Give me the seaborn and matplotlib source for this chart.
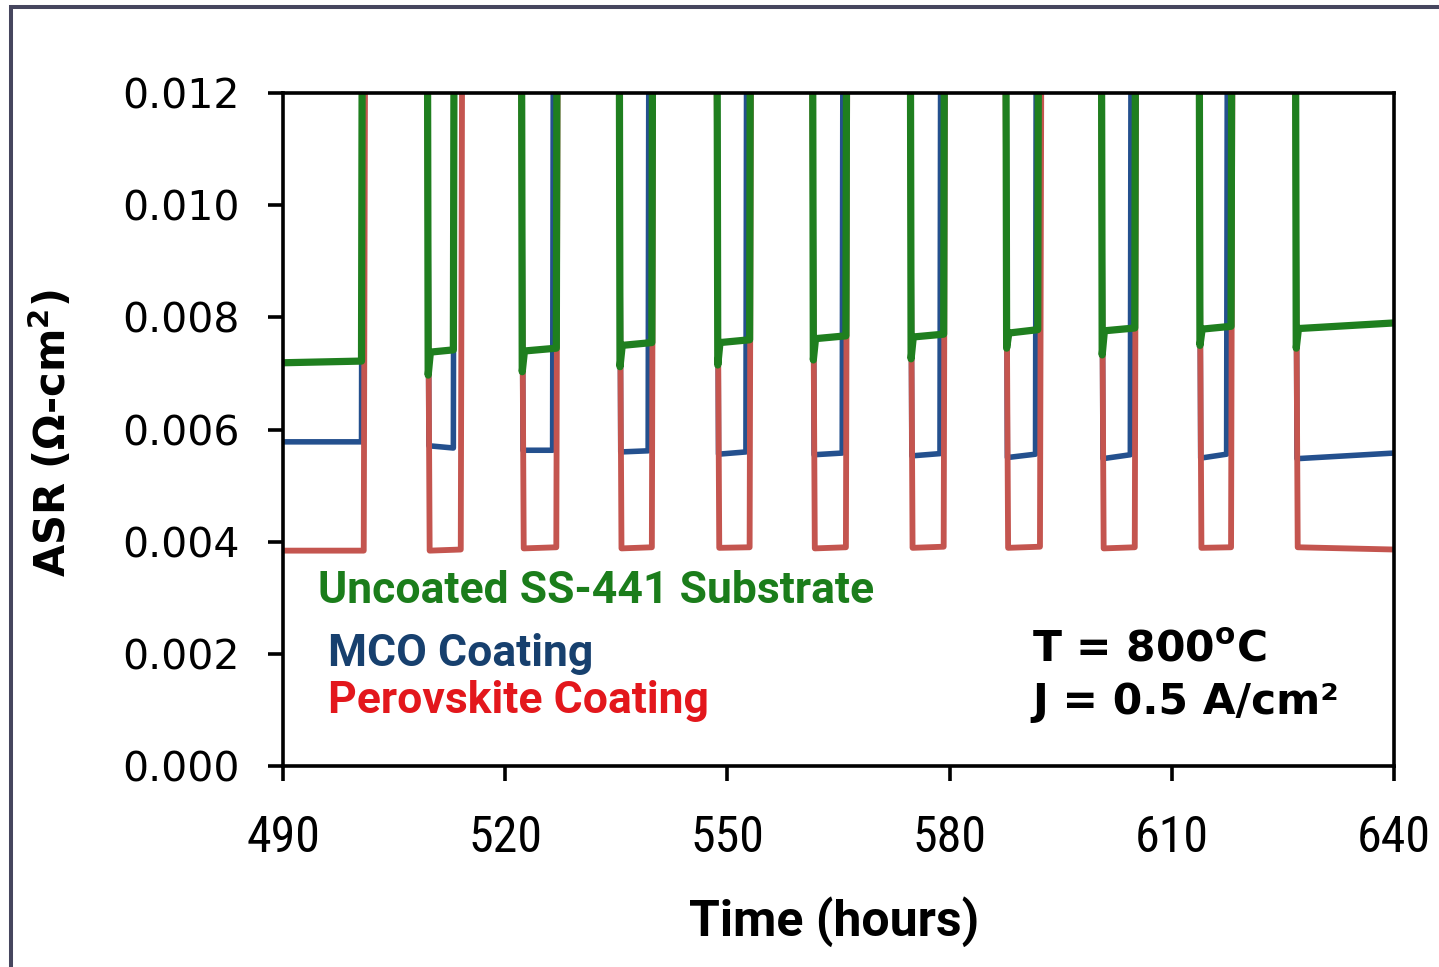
import matplotlib
matplotlib.use("Agg")
import matplotlib.pyplot as plt
import seaborn as sns
import pandas as pd
from matplotlib import font_manager
from matplotlib.patches import Rectangle
from matplotlib.ticker import FixedLocator, FormatStrFormatter

# ---------------- data ----------------
x_ticks = [490, 520, 550, 580, 610, 640]
y_ticks = [0.000, 0.002, 0.004, 0.006, 0.008, 0.010, 0.012]

# time when each test window starts (lines come back down into range)
on_start = [509.6, 522.3, 535.5, 548.7, 561.6, 574.8, 587.7, 600.6, 613.8, 626.8]
# time each series leaves the range again (last window runs to 640)
green_off = [513.0, 526.9, 539.8, 553.0, 566.0, 579.2, 591.9, 605.0, 618.0]
blue_off = [513.0, 526.4, 539.3, 552.5, 565.5, 578.7, 591.6, 604.4, 617.4]
red_off = [514.0, 526.9, 539.8, 553.0, 566.0, 579.2, 592.2, 605.0, 618.0]
first_end = {"green": 500.6, "blue": 500.6, "red": 500.9}

# Uncoated SS-441
green_first = [0.00719, 0.00722]
green_dip = [0.00697, 0.00703, 0.00712, 0.00715, 0.00724, 0.00726, 0.00745, 0.00733, 0.00750, 0.00745]
green_lo = [0.00738, 0.00740, 0.00750, 0.00755, 0.00762, 0.00765, 0.00772, 0.00776, 0.00779, 0.00780]
green_hi = [0.00742, 0.00745, 0.00755, 0.00760, 0.00767, 0.00770, 0.00778, 0.00781, 0.00784, 0.00790]
# MCO coating
blue_first = [0.00578, 0.00578]
blue_lo = [0.00571, 0.00563, 0.00560, 0.00556, 0.00555, 0.00553, 0.00550, 0.00548, 0.00549, 0.00548]
blue_hi = [0.00567, 0.00563, 0.00562, 0.00560, 0.00558, 0.00557, 0.00556, 0.00555, 0.00556, 0.00558]
# Perovskite coating
red_first = [0.00384, 0.00384]
red_lo = [0.00384, 0.00388, 0.00388, 0.00389, 0.00388, 0.00389, 0.00389, 0.00388, 0.00389, 0.00390]
red_hi = [0.00386, 0.00390, 0.00390, 0.00390, 0.00390, 0.00391, 0.00391, 0.00390, 0.00390, 0.00386]

OFF = 0.0135  # off-scale value between windows
T_START, T_END = 490, 640


def build(first_t, first_lv, starts, offs, lo, hi, dip=None, slant=0.15):
    xs = [T_START, first_t, first_t + slant]
    ys = [first_lv[0], first_lv[1], OFF]
    for i, s in enumerate(starts):
        xs.append(s - slant)
        ys.append(OFF)
        if dip is not None:
            xs += [s, s + 0.3]
            ys += [dip[i], lo[i]]
        else:
            xs.append(s + slant)
            ys.append(lo[i])
        end = offs[i] if i < len(offs) else T_END
        xs.append(end)
        ys.append(hi[i])
        if i < len(offs):
            xs.append(end + slant)
            ys.append(OFF)
    return pd.DataFrame({"t": xs, "asr": ys})


green_df = build(first_end["green"], green_first, on_start, green_off, green_lo, green_hi, dip=green_dip, slant=0.1)
blue_df = build(first_end["blue"], blue_first, on_start, blue_off, blue_lo, blue_hi, slant=0.1)
red_df = build(first_end["red"], red_first, on_start, red_off, red_lo, red_hi, slant=0.2)

# ---------------- fonts ----------------
names = {f.name for f in font_manager.fontManager.ttflist}
if "Liberation Sans Narrow" in names:
    xt_font, xt_size = "Liberation Sans Narrow", 38
elif "Roboto Condensed" in names:
    xt_font, xt_size = "Roboto Condensed", 36
else:
    xt_font, xt_size = "DejaVu Sans", 26.5
if "Roboto" in names:
    nb_font, nb_scale = "Roboto", 1.0
else:
    nb_font, nb_scale = "DejaVu Sans", 0.8

sns.set_theme(style="white")
plt.rcParams["font.family"] = ["DejaVu Sans"]
plt.rcParams["mathtext.fontset"] = "dejavusans"

W, H = 1439, 967
fig = plt.figure(figsize=(W / 100, H / 100), dpi=100)
fig.patch.set_facecolor("white")
ax = fig.add_axes([283 / W, 1 - 766 / H, (1394 - 283) / W, (766 - 93) / H])
ax.set_facecolor("white")

GREEN, BLUE, RED = "#1f7f1f", "#24508e", "#c4554f"
sns.lineplot(data=blue_df, x="t", y="asr", sort=False, estimator=None, color=BLUE, linewidth=4.0, ax=ax, zorder=2)
sns.lineplot(data=red_df, x="t", y="asr", sort=False, estimator=None, color=RED, linewidth=4.2, ax=ax, zorder=3)
sns.lineplot(data=green_df, x="t", y="asr", sort=False, estimator=None, color=GREEN, linewidth=5.2, ax=ax, zorder=4)

ax.set_xlim(T_START, T_END)
ax.set_ylim(0, 0.012)
ax.xaxis.set_major_locator(FixedLocator(x_ticks))
ax.yaxis.set_major_locator(FixedLocator(y_ticks))
ax.yaxis.set_major_formatter(FormatStrFormatter("%.3f"))
ax.xaxis.set_major_formatter(FormatStrFormatter("%d"))

for sp in ax.spines.values():
    sp.set_visible(True)
    sp.set_color("black")
    sp.set_linewidth(2.6)
    sp.set_zorder(5)

ax.tick_params(axis="y", direction="out", length=11, width=2.6, color="black",
               left=True, right=False, pad=20, labelsize=29.5, labelcolor="black")
ax.tick_params(axis="x", direction="out", length=10.5, width=2.6, color="black",
               bottom=True, top=False, pad=24, labelsize=xt_size, labelcolor="black")
for lab in ax.get_xticklabels():
    lab.set_fontfamily(xt_font)
for lab in ax.get_yticklabels():
    lab.set_fontfamily("DejaVu Sans")

ax.set_xlabel("Time (hours)", fontfamily=nb_font, fontweight="bold",
              fontsize=36 * nb_scale, color="black")
ax.xaxis.set_label_coords(834 / W, 1 - 922 / H, transform=fig.transFigure)
ax.xaxis.label.set_va("center")

ax.set_ylabel(r"ASR (Ω-cm$^\mathbf{2}$)", fontfamily="DejaVu Sans", fontweight="bold",
              fontsize=30, color="black")
ax.yaxis.set_label_coords(51 / W, 1 - 433 / H, transform=fig.transFigure)
ax.yaxis.label.set_va("center")
ax.yaxis.label.set_ha("center")

# annotations inside the plot
ann = dict(transform=fig.transFigure, fontweight="bold", va="baseline", ha="left")
fig.text(318 / W, 1 - 603 / H, "Uncoated SS-441 Substrate", color="#1b7d1b",
         fontfamily=nb_font, fontsize=32 * nb_scale, **ann)
fig.text(328 / W, 1 - 666 / H, "MCO Coating", color="#17406e",
         fontfamily=nb_font, fontsize=32 * nb_scale, **ann)
fig.text(328 / W, 1 - 713 / H, "Perovskite Coating", color="#e3171c",
         fontfamily=nb_font, fontsize=32 * nb_scale, **ann)
fig.text(1032 / W, 1 - 661 / H, r"T = 800$^\mathbf{o}$C", color="black",
         fontfamily="DejaVu Sans", fontsize=30.5, **ann)
fig.text(1032 / W, 1 - 714 / H, "J = 0.5 A/cm²", color="black",
         fontfamily="DejaVu Sans", fontsize=30.5, **ann)

# outer frame (top and left visible in reference)
fig.add_artist(Rectangle((11 / W, -0.1), 1.2, 1.1 - 7 / H, transform=fig.transFigure,
                         fill=False, edgecolor="#46465e", linewidth=2.9, clip_on=False))

fig.savefig("out.png", dpi=100, facecolor="white")
